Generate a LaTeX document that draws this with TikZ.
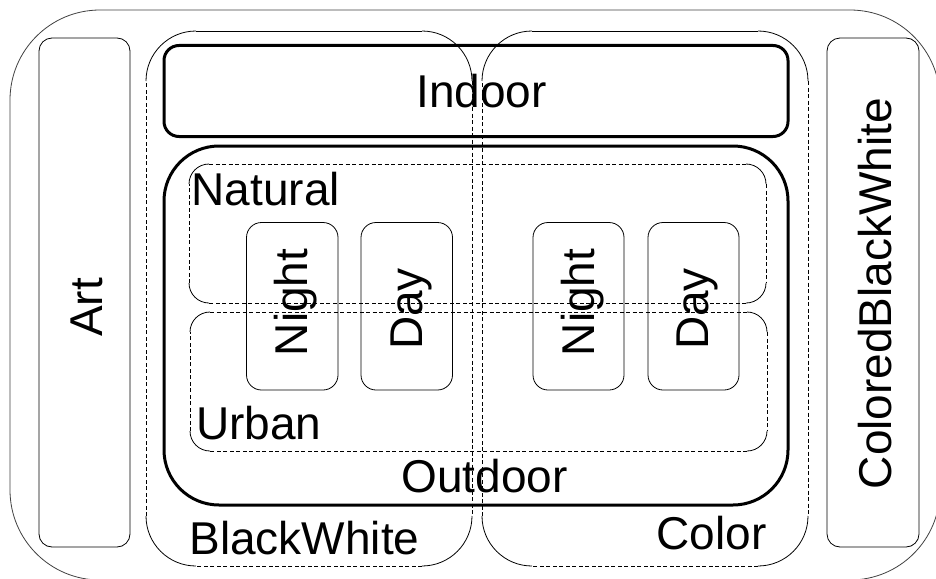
\documentclass[tikz,border=0pt]{standalone}
\usepackage{fontspec}
\setmainfont{Liberation Sans}
\begin{document}
\begin{tikzpicture}[x=1pt,y=-1pt]
\tikzset{
  thinline/.style={line width=0.8pt, draw=black},
  box/.style={draw=black, line width=0.8pt, rounded corners=#1, inner sep=0pt, outer sep=0pt},
  thickbox/.style={box=#1, line width=3pt},
  dsh/.style={dash pattern=on 4pt off 2.5pt},
  area/.style={inner sep=0pt, outer sep=0pt},
  lbl/.style={inner sep=0pt, font=\fontsize{46}{52}\selectfont},
}
\newcommand{\myhalfbox}[5]{%
  % x1, y1, x2, y2, radius : solid corners and top, dashed sides and bottom
  \draw[thinline,rounded corners=#5pt] (#1,{#2+#5}) -- (#1,#2) -- ({#1+#5},#2);
  \draw[thinline,rounded corners=#5pt] ({#3-#5},#2) -- (#3,#2) -- (#3,{#2+#5});
  \draw[thinline,rounded corners=#5pt] (#3,{#4-#5}) -- (#3,#4) -- ({#3-#5},#4);
  \draw[thinline,rounded corners=#5pt] ({#1+#5},#4) -- (#1,#4) -- (#1,{#4-#5});
  \draw[thinline] ({#1+#5},#2) -- ({#3-#5},#2);
  \draw[thinline,dsh] (#3,{#2+#5}) -- (#3,{#4-#5});
  \draw[thinline,dsh] ({#3-#5},#4) -- ({#1+#5},#4);
  \draw[thinline,dsh] (#1,{#4-#5}) -- (#1,{#2+#5});
}
\newcommand{\mydashedbox}[5]{%
  % x1, y1, x2, y2, radius : solid corners, dashed sides
  \draw[thinline,rounded corners=#5pt] (#1,{#2+#5}) -- (#1,#2) -- ({#1+#5},#2);
  \draw[thinline,rounded corners=#5pt] ({#3-#5},#2) -- (#3,#2) -- (#3,{#2+#5});
  \draw[thinline,rounded corners=#5pt] (#3,{#4-#5}) -- (#3,#4) -- ({#3-#5},#4);
  \draw[thinline,rounded corners=#5pt] ({#1+#5},#4) -- (#1,#4) -- (#1,{#4-#5});
  \draw[thinline,dsh] ({#1+#5},#2) -- ({#3-#5},#2);
  \draw[thinline,dsh] (#3,{#2+#5}) -- (#3,{#4-#5});
  \draw[thinline,dsh] ({#3-#5},#4) -- ({#1+#5},#4);
  \draw[thinline,dsh] (#1,{#4-#5}) -- (#1,{#2+#5});
}
\useasboundingbox (0,0) rectangle (936,578);
\clip (0,0) rectangle (936,578);

% outer frame
\node[box=90pt, draw=black!75, minimum width=930pt, minimum height=570pt] (all) at (475,295) {};

% side boxes
\node[box=13pt, minimum width=91pt, minimum height=509pt] (art) at (84.5,292.5) {};
\node[box=13pt, minimum width=92pt, minimum height=509pt] (cbw) at (873,292.5) {};

% BlackWhite and Color areas
\node[area, minimum width=326pt, minimum height=535pt] (bw) at (309,298.5) {};
\myhalfbox{146}{31}{472}{566}{50}
\node[area, minimum width=326pt, minimum height=535pt] (col) at (645,298.5) {};
\myhalfbox{482}{31}{808}{566}{50}

% Indoor / Outdoor
\node[thickbox=15pt, minimum width=624pt, minimum height=91pt] (indoor) at (476,91) {};
\node[thickbox=55pt, minimum width=624pt, minimum height=359pt] (outdoor) at (476,325.5) {};

% Natural / Urban
\node[area, minimum width=577pt, minimum height=139pt] (natural) at (477.5,233.5) {};
\mydashedbox{189}{164}{766}{303}{20}
\node[area, minimum width=577pt, minimum height=139pt] (urban) at (478,381.5) {};
\mydashedbox{190}{312}{767}{451}{20}

% Night / Day boxes
\node[box=15pt, minimum width=91.5pt, minimum height=167.5pt] (night1) at (292.25,306.25) {};
\node[box=15pt, minimum width=91.5pt, minimum height=167.5pt] (day1) at (406.75,306.25) {};
\node[box=15pt, minimum width=91pt, minimum height=167.5pt] (night2) at (578.5,306.25) {};
\node[box=15pt, minimum width=91pt, minimum height=167.5pt] (day2) at (693.5,306.25) {};

% labels
\node[lbl, anchor=base] (tindoor) at (481.5,107) {Indoor};
\node[lbl, anchor=base west] (tnatural) at (191.5,205) {Natural};
\node[lbl, anchor=base west] (turban) at (196,439) {Urban};
\node[lbl, anchor=base] (toutdoor) at (484.5,492) {Outdoor};
\node[lbl, anchor=base] (tbw) at (304.5,554) {BlackWhite};
\node[lbl, anchor=base] (tcol) at (711.5,549.5) {Color};
\node[lbl, anchor=base, rotate=90] (tart) at (102,307.5) {Art};
\node[lbl, anchor=base, rotate=90] (tcbw) at (891,293.5) {ColoredBlackWhite};
\node[lbl, anchor=base, rotate=90] (tn1) at (307,302.5) {Night};
\node[lbl, anchor=base, rotate=90] (td1) at (422,309) {Day};
\node[lbl, anchor=base, rotate=90] (tn2) at (594,302.5) {Night};
\node[lbl, anchor=base, rotate=90] (td2) at (708.5,309) {Day};
\end{tikzpicture}
\end{document}
